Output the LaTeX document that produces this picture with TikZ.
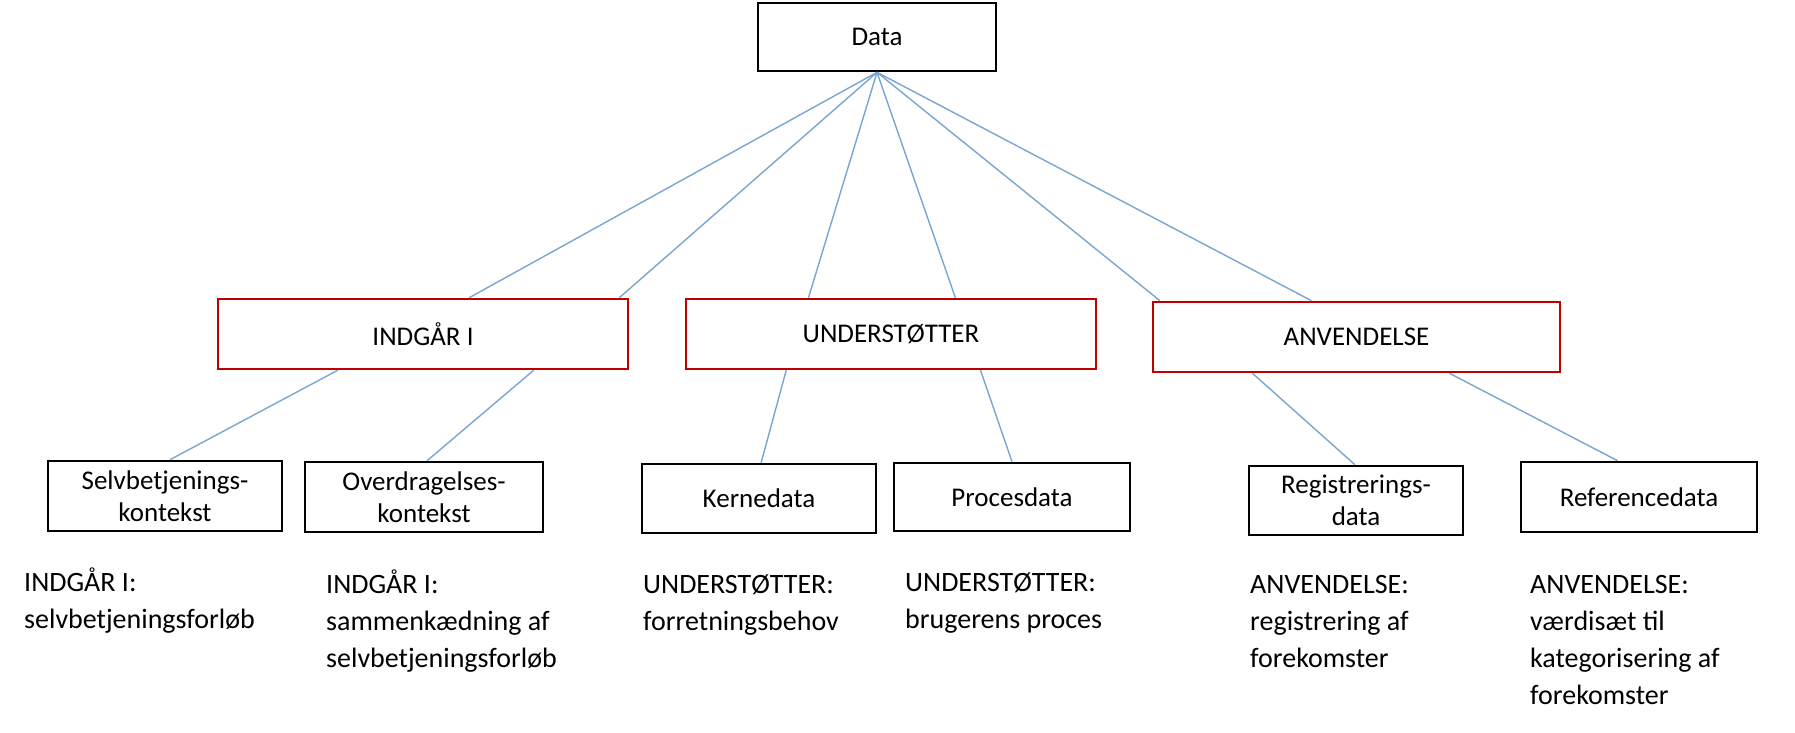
\documentclass[tikz,border=0pt]{standalone}
\usepackage{fontspec}
\setmainfont{Carlito}
\usetikzlibrary{calc}
\definecolor{boxred}{RGB}{192,0,0}
\definecolor{linkblue}{RGB}{120,165,210}
\begin{document}
\begin{tikzpicture}[x=1pt,y=-1pt,
  blackbox/.style={draw=black, line width=2.6pt, rectangle, inner sep=0pt, align=center, font=\fontsize{27}{32}\selectfont},
  redbox/.style={draw=boxred, line width=2.6pt, rectangle, inner sep=0pt, align=center, font=\fontsize{27}{32}\selectfont, minimum height=70},
  link/.style={draw=linkblue, line width=1.4pt},
  lbl/.style={anchor=north west, inner sep=0pt, align=left, font=\fontsize{28}{37}\selectfont}]
\useasboundingbox (0,0) rectangle (1795,732);

% top
\node[blackbox, minimum width=238, minimum height=68] (data) at (877,37) {Data};

% middle row
\node[redbox, minimum width=410] (indg) at (423,334) {INDGÅR I};
\node[redbox, minimum width=410] (unds) at (891,334) {UNDERSTØTTER};
\node[redbox, minimum width=407] (anv) at (1356.5,337) {ANVENDELSE};

% bottom row
\node[blackbox, minimum width=234, minimum height=70] (selv) at (165,496) {Selvbetjenings-\\kontekst};
\node[blackbox, minimum width=238, minimum height=70] (over) at (424,497) {Overdragelses-\\kontekst};
\node[blackbox, minimum width=234, minimum height=69] (kern) at (759,498.5) {Kernedata};
\node[blackbox, minimum width=236, minimum height=68] (proc) at (1012,497) {Procesdata};
\node[blackbox, minimum width=214, minimum height=69] (reg) at (1356,500.5) {Registrerings-\\data};
\node[blackbox, minimum width=236, minimum height=70] (ref) at (1639,497) {Referencedata};

% connectors from Data
\draw[link] (data.south) -- ($(indg.north west)!0.612!(indg.north east)$);
\draw[link] (data.south) -- ($(indg.north west)!0.976!(indg.north east)$);
\draw[link] (data.south) -- ($(unds.north west)!0.30!(unds.north east)$);
\draw[link] (data.south) -- ($(unds.north west)!0.656!(unds.north east)$);
\draw[link] (data.south) -- ($(anv.north west)!0.02!(anv.north east)$);
\draw[link] (data.south) -- ($(anv.north west)!0.39!(anv.north east)$);

% connectors to bottom row
\draw[link] ($(indg.south west)!0.293!(indg.south east)$) -- ($(selv.north west)!0.521!(selv.north east)$);
\draw[link] ($(indg.south west)!0.768!(indg.south east)$) -- ($(over.north west)!0.513!(over.north east)$);
\draw[link] ($(unds.south west)!0.246!(unds.south east)$) -- ($(kern.north west)!0.509!(kern.north east)$);
\draw[link] ($(unds.south west)!0.717!(unds.south east)$) -- ($(proc.north west)!0.5!(proc.north east)$);
\draw[link] ($(anv.south west)!0.246!(anv.south east)$) -- ($(reg.north west)!0.495!(reg.north east)$);
\draw[link] ($(anv.south west)!0.727!(anv.south east)$) -- ($(ref.north west)!0.41!(ref.north east)$);

% labels
\node[lbl] (l1) at (24,565) {\strut INDGÅR I:\\selvbetjeningsforløb};
\node[lbl] (l2) at (326,567) {\strut INDGÅR I:\\sammenkædning af\\selvbetjeningsforløb};
\node[lbl] (l3) at (643,567) {\strut UNDERSTØTTER:\\forretningsbehov};
\node[lbl] (l4) at (905,565) {\strut UNDERSTØTTER:\\brugerens proces};
\node[lbl] (l5) at (1250,567) {\strut ANVENDELSE:\\registrering af\\forekomster};
\node[lbl] (l6) at (1530,567) {\strut ANVENDELSE:\\værdisæt til\\kategorisering af\\forekomster};
\end{tikzpicture}
\end{document}
